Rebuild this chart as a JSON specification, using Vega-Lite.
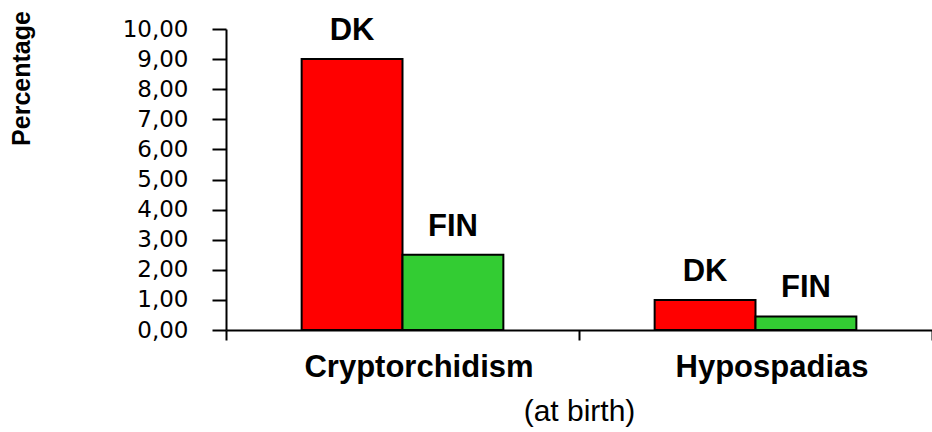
{
  "$schema": "https://vega.github.io/schema/vega-lite/v6.json",
  "autosize": "none",
  "padding": {"left": 226, "top": 29, "right": 0, "bottom": 102},
  "width": 706,
  "height": 301,
  "background": "white",
  "config": {"view": {"stroke": null}},
  "data": {"values": [
    {"condition": "Cryptorchidism", "country": "DK", "pct": 9.0},
    {"condition": "Cryptorchidism", "country": "FIN", "pct": 2.5},
    {"condition": "Hypospadias", "country": "DK", "pct": 1.0},
    {"condition": "Hypospadias", "country": "FIN", "pct": 0.45}
  ]},
  "encoding": {
    "x": {
      "field": "condition", "type": "nominal", "sort": ["Cryptorchidism", "Hypospadias"],
      "scale": {"paddingInner": 0, "paddingOuter": 0},
      "axis": {
        "title": "(at birth)", "titleFont": "Liberation Sans", "titleFontSize": 30, "titleFontWeight": "normal",
        "titleColor": "black", "titlePadding": 14,
        "labelAngle": 0, "labelFont": "Liberation Sans", "labelFontSize": 31, "labelFontWeight": "bold",
        "labelColor": "black", "labelPadding": 12, "labelOffset": 16, "labelLimit": 500,
        "tickBand": "extent", "tickSize": 10, "tickWidth": 2, "tickColor": "black",
        "domainColor": "black", "domainWidth": 2
      }
    },
    "xOffset": {"field": "country", "type": "nominal", "scale": {"paddingInner": 0, "paddingOuter": 0.75}},
    "y": {
      "field": "pct", "type": "quantitative",
      "scale": {"domain": [0, 10], "nice": false},
      "axis": {
        "values": [0, 1, 2, 3, 4, 5, 6, 7, 8, 9, 10],
        "labelExpr": "replace(format(datum.value, '.2f'), '.', ',')",
        "labelFont": "DejaVu Sans", "labelFontSize": 23, "labelColor": "black", "labelPadding": 24,
        "tickSize": 14, "tickWidth": 2, "tickColor": "black",
        "domainColor": "black", "domainWidth": 2, "grid": false,
        "title": "Percentage", "titleFont": "Liberation Sans", "titleFontSize": 25, "titleFontWeight": "bold",
        "titleColor": "black", "titleAngle": -90, "titleX": -192, "titleY": 49, "titleAlign": "center", "titleBaseline": "bottom"
      }
    }
  },
  "layer": [
    {
      "mark": {"type": "bar", "stroke": "black", "strokeWidth": 2},
      "encoding": {
        "color": {"field": "country", "type": "nominal", "legend": null,
          "scale": {"domain": ["DK", "FIN"], "range": ["#FF0000", "#33CC33"]}}
      }
    },
    {
      "mark": {"type": "text", "baseline": "bottom", "dy": -12, "font": "Liberation Sans", "fontSize": 31, "fontWeight": "bold", "color": "black"},
      "encoding": {"text": {"field": "country"}}
    }
  ]
}
